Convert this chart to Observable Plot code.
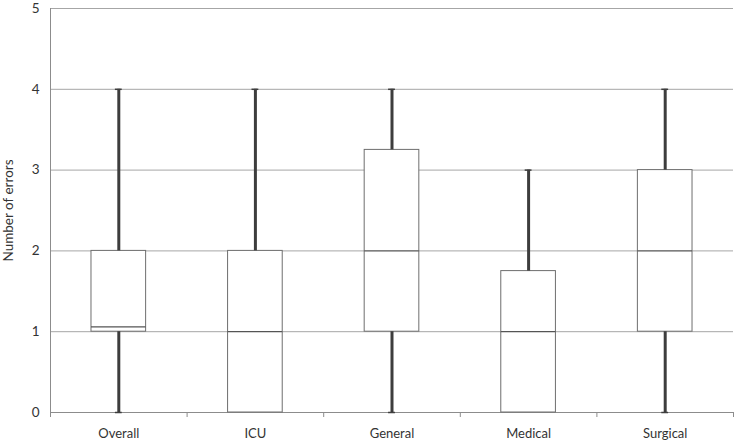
<!DOCTYPE html>
<html><head><meta charset="utf-8">
<script src="https://cdn.jsdelivr.net/npm/d3@7"></script>
<script src="https://cdn.jsdelivr.net/npm/@observablehq/plot@0.6"></script>
<style>body{margin:0;background:#fff;} svg{display:block;}</style>
</head><body><div id="chart"></div>
<script>
const categories = ["Overall", "ICU", "General", "Medical", "Surgical"];
const minValues = [0, 0, 0, 0, 0];
const q1Values = [1, 0, 1, 0, 1];
const medianValues = [1.06, 1, 2, 1, 2];
const q3Values = [2, 2, 3.25, 1.75, 3];
const maxValues = [4, 4, 4, 3, 4];
const yTicks = [0, 1, 2, 3, 4, 5];

const data = categories.map((c, i) => ({
  cat: c, i, pos: i + 0.5,
  min: minValues[i], q1: q1Values[i], med: medianValues[i], q3: q3Values[i], max: maxValues[i]
}));
const half = 0.2, cap = 0.025;

const font = "Lato, 'Open Sans', sans-serif";
const chart = Plot.plot({
  width: 734, height: 441,
  marginLeft: 50, marginRight: 1, marginTop: 8, marginBottom: 29,
  style: {fontFamily: font, fontSize: "13.5px", color: "#333", background: "#fff"},
  x: {type: "linear", domain: [0, categories.length], axis: null},
  y: {domain: [0, 5], ticks: yTicks, tickFormat: "d", label: "Number of errors", labelAnchor: "center", labelArrow: "none", labelOffset: 47, tickSize: 0, tickPadding: 11},
  marks: [
    Plot.ruleY(yTicks.filter(d => d > 0), {stroke: "#a6a6a6", strokeWidth: 1}),
    Plot.axisX({ticks: d3.range(categories.length + 1), tickSize: 5, tickFormat: () => "", stroke: "#8c8c8c", label: null}),
    Plot.ruleY([0], {stroke: "#8c8c8c", strokeWidth: 1}),
    Plot.ruleX([0], {stroke: "#8c8c8c", strokeWidth: 1}),
    Plot.rect(data, {x1: d => d.pos - half, x2: d => d.pos + half, y1: "q1", y2: "q3", fill: "#fff", stroke: "#6e6e6e", strokeWidth: 1}),
    Plot.ruleY(data, {x1: d => d.pos - half, x2: d => d.pos + half, y: "med", stroke: "#555", strokeWidth: 1.2}),
    Plot.ruleX(data.filter(d => d.min < d.q1), {x: "pos", y1: "min", y2: "q1", stroke: "#3d3d3d", strokeWidth: 3}),
    Plot.ruleX(data.filter(d => d.max > d.q3), {x: "pos", y1: "q3", y2: "max", stroke: "#3d3d3d", strokeWidth: 3}),
    Plot.ruleY(data.filter(d => d.min < d.q1), {x1: d => d.pos - cap, x2: d => d.pos + cap, y: "min", stroke: "#3d3d3d", strokeWidth: 1.5}),
    Plot.ruleY(data.filter(d => d.max > d.q3), {x1: d => d.pos - cap, x2: d => d.pos + cap, y: "max", stroke: "#3d3d3d", strokeWidth: 1.5}),
    Plot.text(data, {x: "pos", y: 0, text: "cat", dy: 21, fill: "#333", fontSize: 13, lineAnchor: "middle"})
  ]
});
document.getElementById("chart").append(chart);
</script>
</body></html>
